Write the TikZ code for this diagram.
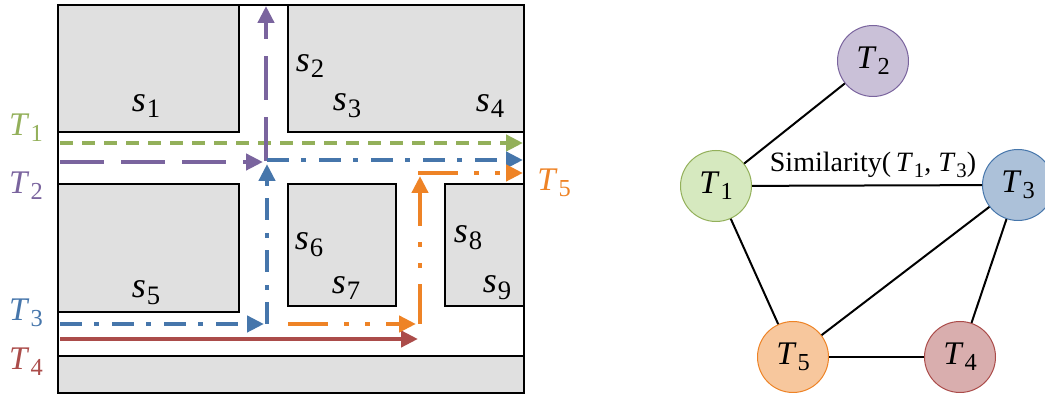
\documentclass[tikz,border=0pt]{standalone}
\usepackage{fontspec}
\setmainfont{Liberation Serif}
\usetikzlibrary{positioning,arrows.meta}
\definecolor{cgreen}{HTML}{93B05A}
\definecolor{cpurple}{HTML}{7A649E}
\definecolor{cblue}{HTML}{4676AB}
\definecolor{cred}{HTML}{AB4C4A}
\definecolor{corange}{HTML}{EE8326}
\definecolor{blockgray}{HTML}{E0E0E0}
\newcommand{\tsub}[2]{\textit{#1}\kern0.03em\raisebox{-0.42ex}{\scalebox{0.74}{#2}}}
\tikzset{
  block/.style={draw, fill=blockgray, line width=0.7pt},
  traj/.style={line width=2.4pt, -{Triangle[length=8.5pt, width=8pt]}},
  traj1/.style={traj, cgreen, dash pattern=on 6.5pt off 4.5pt},
  traj2/.style={traj, cpurple, dash pattern=on 22pt off 8.5pt},
  traj3/.style={traj, cblue, dash pattern=on 11pt off 6pt on 2.5pt off 6.5pt},
  traj4/.style={traj, cred},
  traj5/.style={traj, corange, dash pattern=on 20pt off 8pt on 2.5pt off 8pt on 2.5pt off 8pt},
  maplabel/.style={font=\fontsize{16.5}{19}\selectfont, inner sep=0pt},
  slabel/.style={font=\fontsize{18}{21}\selectfont, inner sep=0pt},
  tnode/.style={circle, draw, line width=0.5pt, minimum size=35.5pt, inner sep=0pt,
                font=\fontsize{16.5}{19}\selectfont},
  n1/.style={draw=cgreen, fill=green!30!olive!25!white},
  n2/.style={draw=cpurple, fill=cpurple!40},
  n3/.style={draw=cblue, fill=cblue!45},
  n4/.style={draw=cred, fill=cred!45},
  n5/.style={draw=corange, fill=corange!45},
  link/.style={line width=1pt},
}

\begin{document}
\begin{tikzpicture}[x=0.5pt, y=-0.5pt]
  \useasboundingbox (0,0) rectangle (1045,399);

  % map
  \draw[line width=0.7pt] (58,5) rectangle (524,393);
  \draw[block] (58,5) rectangle (239,132);
  \draw[block] (288,5) rectangle (524,132);
  \draw[block] (58,184) rectangle (239,312);
  \draw[block] (288,184) rectangle (396,306);
  \draw[block] (445,184) rectangle (524,306);
  \draw[block] (58,356) rectangle (524,393);

  \node[slabel] (s1) at (146,106) {\tsub{s}{1}};
  \node[slabel] (s2) at (310,66) {\tsub{s}{2}};
  \node[slabel] (s3) at (347,106) {\tsub{s}{3}};
  \node[slabel] (s4) at (490,106) {\tsub{s}{4}};
  \node[slabel] (s5) at (146,293) {\tsub{s}{5}};
  \node[slabel] (s6) at (309,245) {\tsub{s}{6}};
  \node[slabel] (s7) at (346,288) {\tsub{s}{7}};
  \node[slabel] (s8) at (468,238) {\tsub{s}{8}};
  \node[slabel] (s9) at (497,288) {\tsub{s}{9}};

  % trajectories
  \draw[traj1] (60,143) -- (523,143);
  \draw[traj2] (60,162) -- (263,162);
  \draw[traj2] (266,161) -- (266,6);
  \draw[traj3] (60,324) -- (264,324);
  \draw[traj3] (267,324) -- (267,164);
  \draw[traj3] (267,160) -- (523,160);
  \draw[traj4] (60,339) -- (418,339);
  \draw[traj5] (288,324) -- (416,324);
  \draw[traj5] (420,324) -- (420,176);
  \draw[traj5] (418,173) -- (523,173);

  \node[maplabel, text=cgreen] (lT1) at (26,128) {\tsub{T}{1}};
  \node[maplabel, text=cpurple] (lT2) at (26,186) {\tsub{T}{2}};
  \node[maplabel, text=cblue] (lT3) at (26,313) {\tsub{T}{3}};
  \node[maplabel, text=cred] (lT4) at (26,362) {\tsub{T}{4}};
  \node[maplabel, text=corange] (lT5) at (554,183) {\tsub{T}{5}};

  % similarity graph
  \node[tnode, n1] (T1) at (716,186) {\tsub{T}{1}};
  \node[tnode, n2] (T2) at (873,61) {\tsub{T}{2}};
  \node[tnode, n3] (T3) at (1018,185) {\tsub{T}{3}};
  \node[tnode, n5] (T5) at (793,357) {\tsub{T}{5}};
  \node[tnode, n4] (T4) [right=47.5pt of T5] {\tsub{T}{4}};

  \draw[link] (T1) -- (T2);
  \draw[link] (T1) -- (T3) node[midway, above, xshift=3pt, font=\fontsize{14}{17}\selectfont] {Similarity(\,\tsub{T}{1},\ \tsub{T}{3})};
  \draw[link] (T1) -- (T5);
  \draw[link] (T3) -- (T5);
  \draw[link] (T3) -- (T4);
  \draw[link] (T5) -- (T4);

\end{tikzpicture}
\end{document}
